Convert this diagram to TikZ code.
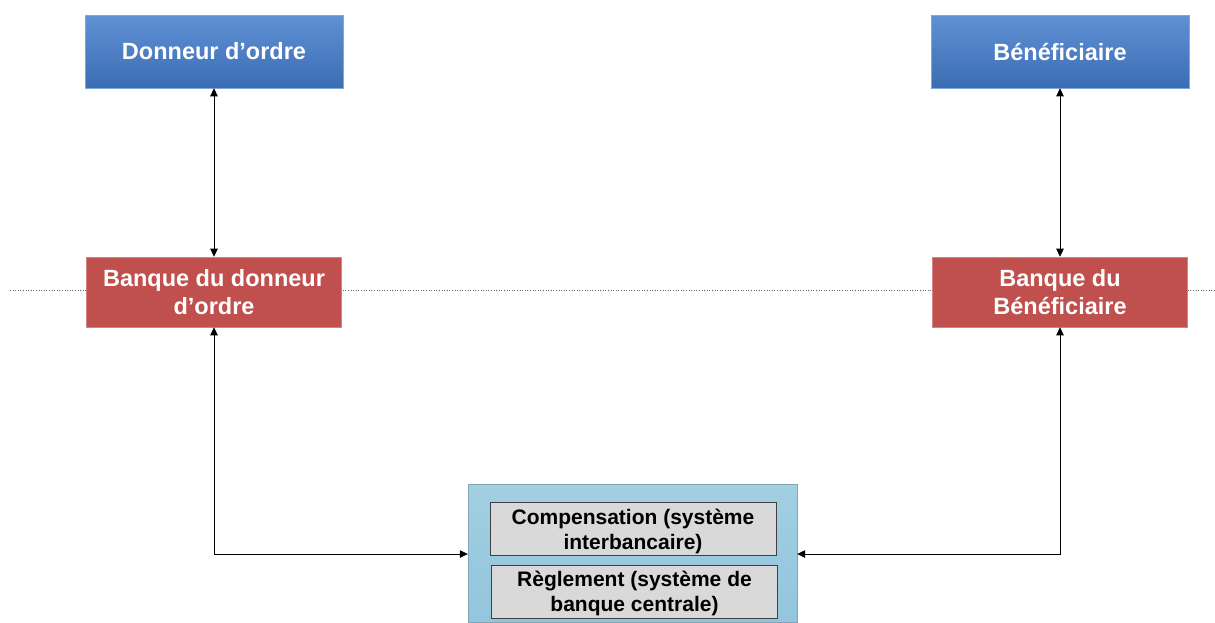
\documentclass[tikz,border=0pt]{standalone}
\usepackage{fontspec}
\setmainfont{Liberation Sans}
\usetikzlibrary{arrows.meta}
\definecolor{bluetop}{HTML}{6190D4}
\definecolor{bluebot}{HTML}{3B6DB3}
\definecolor{redbox}{HTML}{C0504D}
\definecolor{sysblue}{HTML}{A2CFE2}
\definecolor{sysbluebot}{HTML}{93C5DC}
\definecolor{grayin}{HTML}{D9D9D9}
\begin{document}
\begin{tikzpicture}[x=1pt,y=-1pt,
  party/.style={minimum width=258pt,minimum height=73pt,top color=bluetop,bottom color=bluebot,draw=bluetop!80!white,line width=0.6pt,text=white,font=\bfseries\fontsize{23.5}{27}\selectfont,inner sep=0pt},
  bank/.style={minimum width=255pt,minimum height=70pt,fill=redbox,draw=redbox!70!white,line width=0.6pt,text=white,font=\bfseries\fontsize{23.5}{28}\selectfont,align=center,inner sep=0pt},
  inbox/.style={minimum width=286pt,minimum height=53pt,fill=grayin,draw=black!75,line width=0.7pt,font=\bfseries\fontsize{21}{25}\selectfont,align=center,inner sep=0pt},
  conn/.style={line width=0.7pt,{Triangle[length=8pt,width=7.5pt]}-{Triangle[length=8pt,width=7.5pt]}}]
\useasboundingbox (0,0) rectangle (1215,622);
\draw[dotted,black!60,line width=0.6pt] (10,290) -- (1215,290);
\node[party] (do) at (214,51.5) {Donneur d’ordre};
\node[party] (be) at (1060,51.5) {Bénéficiaire};
\node[bank] (bdo) at (214,292) {Banque du donneur\\d’ordre};
\node[bank] (bbe) at (1060,292) {Banque du\\Bénéficiaire};
\node[minimum width=329pt,minimum height=138pt,top color=sysblue,bottom color=sysbluebot,draw=sysblue!80!black,line width=0.4pt,inner sep=0pt] (sys) at (632.5,553) {};
\node[inbox] (comp) at (633,528.5) {};
\node[inbox] (regl) at (634.5,591.5) {};
\node[font=\bfseries\fontsize{21}{25}\selectfont,align=center,inner sep=0pt] (compt) at (633,531) {Compensation (système\\interbancaire)};
\node[font=\bfseries\fontsize{21}{25}\selectfont,align=center,inner sep=0pt] (reglt) at (634.5,593.5) {Règlement (système de\\banque centrale)};
\coordinate (cl) at (214,554);
\coordinate (cr) at (1060,554);
\draw[conn] (do.south) -- (bdo.north);
\draw[conn] (be.south) -- (bbe.north);
\draw[conn] (bdo.south) -- (cl) -- (sys.west |- cl);
\draw[conn] (bbe.south) -- (cr) -- (sys.east |- cr);
\end{tikzpicture}
\end{document}
